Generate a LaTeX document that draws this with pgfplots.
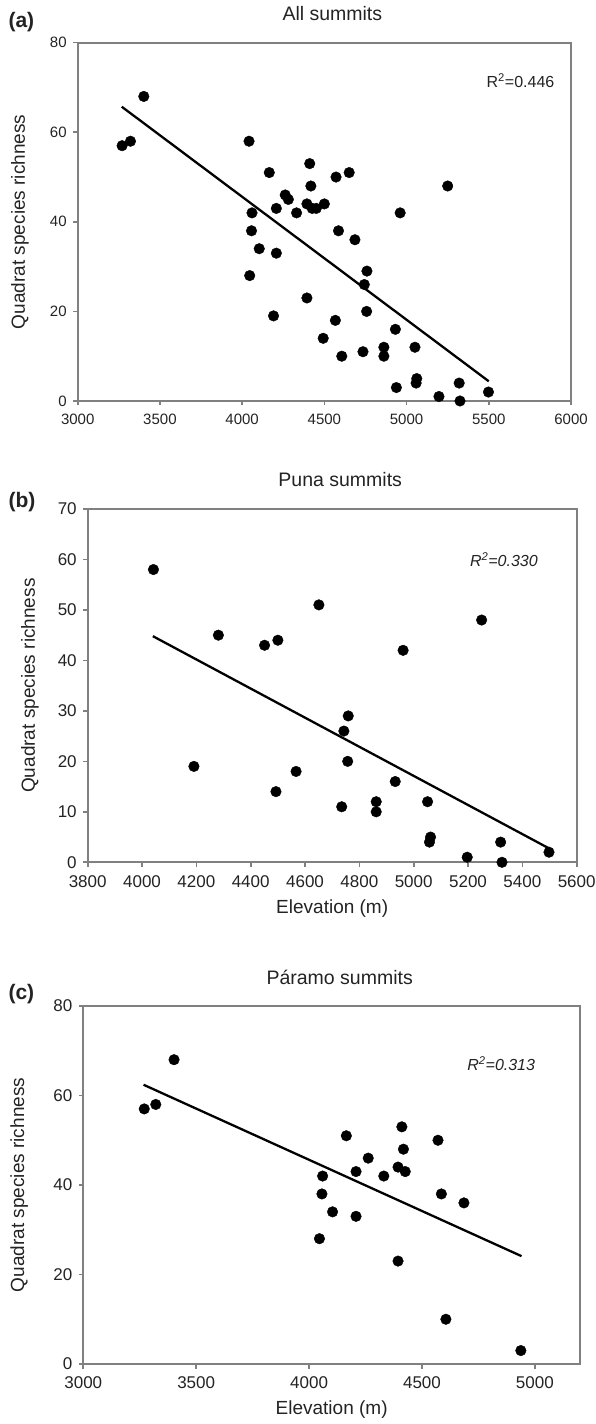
\documentclass[border=0pt]{standalone}
\usepackage{fontspec}
\setmainfont{Liberation Sans}
\usepackage{pgfplots}
\usepackage{pgfplotstable}
\pgfplotsset{compat=1.18}

\definecolor{axgray}{RGB}{128,128,128}
\definecolor{txt}{RGB}{35,35,35}

% Puna summits: elevation (m), quadrat species richness
\pgfplotstableread{
x y
4042 58
4191 19
4281 45
4451 43
4500 44
4493 14
4567 18
4651 51
4735 11
4743 26
4759 29
4757 20
4862 12
4862 10
4932 16
4961 42
5051 12
5062 5
5058 4
5197 1
5250 48
5320 4
5325 0
5498 2
}\puna

% Paramo summits
\pgfplotstableread{
x y
3270 57
3321 58
3402 68
4046 28
4060 42
4057 38
4104 34
4165 51
4208 33
4208 43
4262 46
4331 42
4394 44
4394 23
4411 53
4418 48
4426 43
4571 50
4586 38
4606 10
4686 36
4938 3
}\paramo

\pgfplotsset{
  summit/.style={
    scale only axis,
    axis line style={axgray, line width=2bp},
    tick style={axgray, line width=1.6bp},
    major tick length=4.5bp,
    tick align=outside,
    xtick pos=bottom, ytick pos=left,
    /pgf/number format/assume math mode=true,
    /pgf/number format/set thousands separator={},
    xticklabel style={text=txt, yshift=-5bp},
    yticklabel style={text=txt, xshift=-3bp},
    title style={font=\fontsize{19.5bp}{22bp}\selectfont, text=txt,
      at={(axis description cs:0.5,1)}, anchor=center, yshift=23bp, xshift=8bp},
    ylabel style={font=\fontsize{19bp}{22bp}\selectfont, text=txt, anchor=center},
    xlabel style={font=\fontsize{19bp}{22bp}\selectfont, text=txt,
      at={(axis description cs:0.5,0)}, anchor=center, yshift=-46bp},
  },
  dots/.style={only marks, mark=*, black, mark size=5.3bp},
  fit/.style={black, line width=2.3bp, no marks},
}

\begin{document}
\begin{tikzpicture}
\path[use as bounding box] (0,0) rectangle (596bp,1424bp);

% (a) all summits
\begin{axis}[summit,
  at={(77.7bp,1023bp)}, anchor=south west,
  width=493.3bp, height=358.3bp,
  xmin=3000, xmax=6000, ymin=0, ymax=80,
  xtick={3000,3500,...,6000}, ytick={0,20,...,80},
  ticklabel style={font=\fontsize{15bp}{18bp}\selectfont},
  title={All summits},
  ylabel={Quadrat species richness},
  ylabel style={at={(axis description cs:-0.117,0.5)}},
]
\addplot[fit] coordinates {(3268,65.7) (5500,4.4)};
\addplot[dots] table {\puna};
\addplot[dots] table {\paramo};
\node[font=\fontsize{16bp}{19bp}\selectfont, text=txt] at (axis cs:5693,71.6) {R\textsuperscript{2}=0.446};
\end{axis}

% (b) Puna summits
\begin{axis}[summit,
  at={(87.7bp,561.7bp)}, anchor=south west,
  width=489bp, height=353.3bp,
  xmin=3800, xmax=5600, ymin=0, ymax=70,
  xtick={3800,4000,...,5600}, ytick={0,10,...,70},
  ticklabel style={font=\fontsize{17bp}{20bp}\selectfont},
  title={Puna summits},
  xlabel={Elevation (m)},
  ylabel={Quadrat species richness},
  ylabel style={at={(axis description cs:-0.118,0.5)}},
]
\addplot[fit] coordinates {(4040,44.8) (5500,2.7)};
\addplot[dots] table {\puna};
\node[font=\fontsize{16bp}{19bp}\selectfont\itshape, text=txt] at (axis cs:5332,60) {R\textsuperscript{2}=0.330};
\end{axis}

% (c) Paramo summits
\begin{axis}[summit,
  at={(83.3bp,60bp)}, anchor=south west,
  width=496.7bp, height=358bp,
  xmin=3000, xmax=5200, ymin=0, ymax=80,
  xtick={3000,3500,...,5000}, ytick={0,20,...,80},
  ticklabel style={font=\fontsize{17bp}{20bp}\selectfont},
  title={Páramo summits},
  xlabel={Elevation (m)},
  ylabel={Quadrat species richness},
  ylabel style={at={(axis description cs:-0.129,0.5)}},
]
\addplot[fit] coordinates {(3267,62.4) (4941,24.1)};
\addplot[dots] table {\paramo};
\node[font=\fontsize{16bp}{19bp}\selectfont\itshape, text=txt] at (axis cs:4851,67.1) {R\textsuperscript{2}=0.313};
\end{axis}

\node[anchor=west, font=\fontsize{21bp}{24bp}\selectfont\bfseries, text=txt] at (5bp,1402bp) {(a)};
\node[anchor=west, font=\fontsize{21bp}{24bp}\selectfont\bfseries, text=txt] at (5bp,922bp) {(b)};
\node[anchor=west, font=\fontsize{21bp}{24bp}\selectfont\bfseries, text=txt] at (5bp,430bp) {(c)};
\end{tikzpicture}
\end{document}
